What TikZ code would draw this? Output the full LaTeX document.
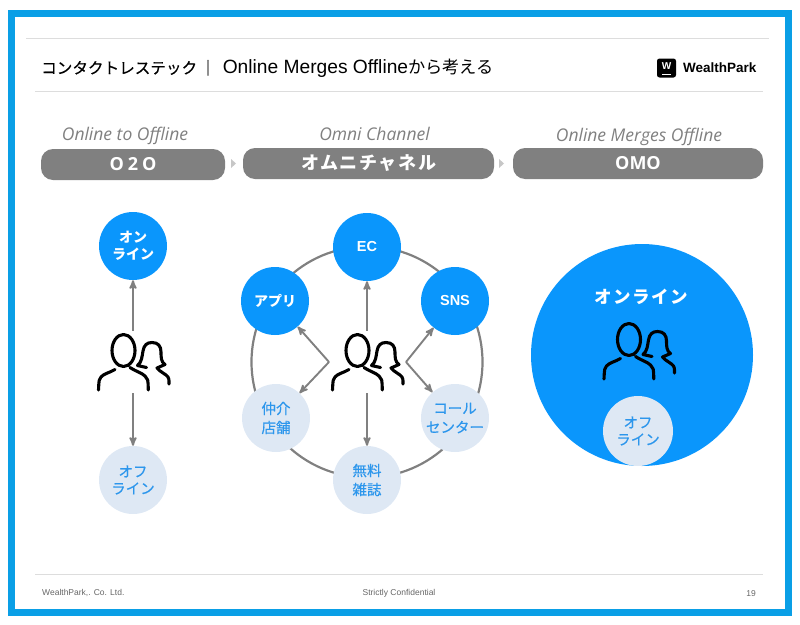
\documentclass[tikz,border=0pt]{standalone}
\usepackage{xcolor}
\usepackage{fontspec}
\usetikzlibrary{arrows}
\setmainfont{Liberation Sans}
\newfontfamily\cjk{Noto Sans CJK JP}
\newfontfamily\cjksoft[FakeBold=0.5]{Noto Sans CJK JP}
\newfontfamily\cjkwide[LetterSpace=9]{Noto Sans CJK JP}
\newfontfamily\slant{Open Sans}
\definecolor{frameblue}{HTML}{0A9FE6}
\definecolor{mainblue}{HTML}{0A96FC}
\definecolor{softblue}{HTML}{DEE8F4}
\definecolor{softtext}{HTML}{2C96EC}
\definecolor{hairline}{HTML}{DDDDDD}
\definecolor{barfill}{HTML}{808080}
\tikzset{
  people/.pic={
    \draw[line width=3.1pt,line cap=round,line join=round,pic actions]
      (-9.5,-11.5) ellipse (11.5 and 16)
      (-18,7.5) .. controls (-24,11) and (-29,11.5) .. (-32,15) .. controls (-34,17.5) .. (-34.5,28)
      (-3,5.5) .. controls (4,10) and (9,11) .. (12,14) .. controls (15,17) .. (15.3,28)
      (13.5,5.5) -- (4.5,3.5) .. controls (9,0) and (9,-6) .. (10,-11) .. controls (11,-17) and (14,-19.5) .. (19,-19.5)
      .. controls (25,-19.5) and (28,-16) .. (28,-10) .. controls (28,-5) and (28,0) .. (32,2.5) -- (24,6)
      .. controls (27,10) and (33,12) .. (35,15) .. controls (36,17) .. (36,22);
  }
}

\begin{document}
\begin{tikzpicture}[x=1pt,y=-1pt,>=stealth',
    main node/.style={circle,fill=mainblue,text=white,inner sep=0pt,minimum size=68pt,align=center,font=\cjk\bfseries\fontsize{14}{17}\selectfont},
    latin node/.style={main node,font=\bfseries\fontsize{14.5}{17}\selectfont},
    soft node/.style={circle,fill=softblue,text=softtext,inner sep=0pt,minimum size=68pt,align=center,font=\cjksoft\fontsize{14.5}{17}\selectfont},
    tall node/.style={soft node,font=\cjksoft\fontsize{14.5}{19}\selectfont},
    crowd node/.style={inner sep=0pt,minimum width=74pt,minimum height=62pt},
    flow/.style={->,draw=barfill,line width=1.9pt},
    bar node/.style={rounded corners=12pt,fill=barfill,text=white,inner sep=0pt,minimum height=31pt},
    era node/.style={text=barfill,font=\slant\itshape\fontsize{17.5}{20}\selectfont},
    foot node/.style={text=black!60,font=\fontsize{8.5}{10}\selectfont},
    rule/.style={draw=hairline,line width=1pt},
    next mark/.style={fill=black!22}]
  \useasboundingbox (0,0) rectangle (800,624);
  \draw[frameblue,line width=7pt] (11.5,13.5) rectangle (788.5,612.5);
  % header
  \coordinate (topL) at (26,38);
  \coordinate (topR) at (769,38);
  \coordinate (headL) at (35,91);
  \coordinate (headR) at (763,91);
  \coordinate (footL) at (35,574);
  \coordinate (footR) at (763,574);
  \draw[rule] (topL) -- (topR);
  \draw[rule] (headL) -- (headR);
  \draw[rule] (footL) -- (footR);
  \node[anchor=west,inner sep=0pt,font=\fontsize{19.2}{22}\selectfont] (title) at (41,68.5) {{\cjksoft\fontsize{15.6}{20}\selectfont コンタクトレステック\hspace{3pt}｜}\hspace{7pt}Online Merges Offline{\cjk\fontsize{17.2}{20}\selectfont から考える}};
  \node[fill=black,rounded corners=2.5pt,minimum size=19pt,inner sep=0pt] (logo) at (666.5,68) {};
  \node[inner sep=0pt,text=white,font=\bfseries\fontsize{10}{10}\selectfont] (logoW) at (666.5,66.5) {W};
  \coordinate (logoL) at (662,74.5);
  \coordinate (logoR) at (671,74.5);
  \draw[white,line width=1.2pt] (logoL) -- (logoR);
  \node[anchor=west,inner sep=0pt,font=\bfseries\fontsize{13.5}{15}\selectfont] (brand) at (683,68) {WealthPark};
  % eras
  \node[era node] (eraA) at (125,136) {Online to Offline};
  \node[era node] (eraB) at (374.5,134) {Omni Channel};
  \node[era node] (eraC) at (639,137) {Online Merges Offline};
  \node[bar node,minimum width=184pt,font=\slant\bfseries\fontsize{18}{20}\selectfont] (barA) at (133,164.5) {O\hspace{4pt}2\hspace{4pt}O};
  \node[bar node,minimum width=251pt,font=\cjkwide\bfseries\fontsize{18}{20}\selectfont] (barB) at (368.5,163.5) {オムニチャネル};
  \node[bar node,minimum width=250pt,font=\slant\bfseries\fontsize{18}{20}\selectfont] (barC) at (638,163.5) {OMO};
  \fill[next mark] (231,159) -- (236,163.5) -- (231,168) -- cycle;
  \fill[next mark] (499,159) -- (504,163.5) -- (499,168) -- cycle;
  % left column
  \node[crowd node] (crowdA) at (133,362) {};
  \pic at (crowdA) {people};
  \node[main node] (onA) at (133,246) {オン\\ライン};
  \node[soft node] (offA) at (133,480) {オフ\\ライン};
  \draw[flow] (crowdA) -- (onA);
  \draw[flow] (crowdA) -- (offA);
  % middle column
  \node[circle,draw=barfill,line width=2.2pt,minimum size=231pt,inner sep=0pt] (ring) at (367,362) {};
  \node[crowd node] (crowdB) at (367,362) {};
  \pic at (crowdB) {people};
  \node[latin node] (ec) at (367,247) {EC};
  \node[main node] (app) at (275,301) {アプリ};
  \node[latin node] (sns) at (455,301) {SNS};
  \node[tall node] (agent) at (276,418) {仲介\\店舗};
  \node[tall node] (call) at (455,418) {コール\\センター};
  \node[tall node] (paper) at (367,480) {無料\\雑誌};
  \coordinate (elbowL) at (329,362);
  \coordinate (elbowR) at (406,362);
  \draw[flow] (crowdB) -- (ec);
  \draw[flow] (crowdB) -- (paper);
  \draw[flow] (elbowL) -- (app);
  \draw[flow] (elbowL) -- (agent);
  \draw[flow] (elbowR) -- (sns);
  \draw[flow] (elbowR) -- (call);
  % right column
  \node[circle,fill=mainblue,minimum size=222pt,inner sep=0pt] (world) at (642,355) {};
  \node[text=white,inner sep=0pt,font=\cjkwide\bfseries\fontsize{17.5}{20}\selectfont] (worldname) at (641,297) {オンライン};
  \pic at (638.5,351) {people};
  \node[soft node,minimum size=70pt] (offC) at (638,431) {オフ\\ライン};
  % footer
  \node[foot node,anchor=west,inner sep=0pt] (firm) at (42,593) {WealthPark,. Co. Ltd.};
  \node[foot node,inner sep=0pt] (secret) at (399,593) {Strictly Confidential};
  \node[foot node,anchor=east,inner sep=0pt] (page) at (756,594) {19};
\end{tikzpicture}
\end{document}
